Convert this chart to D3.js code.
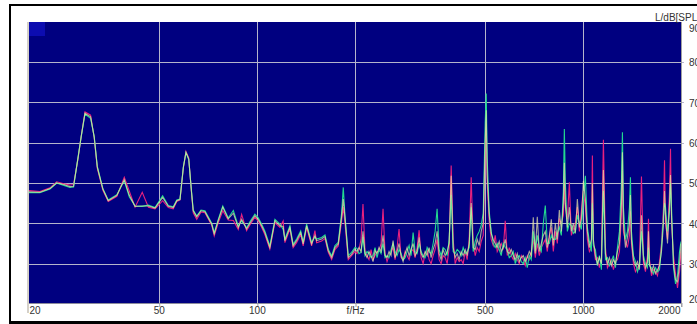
<!DOCTYPE html>
<html><head><meta charset="utf-8">
<script src="https://cdn.jsdelivr.net/npm/d3@7"></script>
<style>body{margin:0;background:#fff}svg{display:block}</style>
</head><body>
<svg id="c" width="697" height="324"></svg>
<script>
// frequency grid (Hz)
const freq = [
20.0,21.6,23.2,24.3,25.6,26.7,27.4,28.3,28.9,29.7,30.9,31.7,32.4,33.7,35.0,37.2,39.2,40.6,42.3,44.5,
46.5,48.7,51.4,53.5,55.4,56.8,58.1,59.5,60.6,61.8,63.1,63.8,65.4,67.4,69.3,72.7,74.0,76.0,78.6,81.7,
84.7,87.7,
89.8,93.0,95.2,98.6,100.9,103.4,105.8,109.6,113.6,117.7,120.4,121.9,126.3,129.2,132.4,136.3,138.7,142.1,147.2,150.7,
152.5,158.0,161.8,165.6,169.6,173.6,177.7,181.9,184.1,186.3,190.7,195.2,
200,202.8,205.7,208.7,211.6,214.7,217.7,220.8,224.0,227.2,
230.4,233.7,237.0,240.4,243.8,247.3,250.8,254.4,258.0,261.7,
265.4,269.2,273.0,276.9,280.9,284.9,288.9,293.1,297.2,301.5,
305.8,310.1,314.6,319.0,323.6,328.2,332.9,337.6,342.4,347.3,
352.2,357.2,362.3,367.5,372.7,378.1,383.5,388.9,394.5,400.1,
405.8,411.6,417.4,423.4,429.4,435.5,441.7,448.0,454.4,460.9,
467.5,474.1,480.9,487.7,494.7,501.7,505.3,508.8,516.1,523.4,
530.9,538.5,546.1,553.9,561.8,569.8,578.0,586.2,594.6,603.1,
611.6,620.4,629.2,638.2,647.3,656.5,665.8,675.3,684.9,694.6,
704.5,714.6,724.7,735.1,745.6,756.2,767.0,777.9,789.0,800.2,
811.6,823.3,835.0,846.9,859.0,871.2,877.4,883.6,896.2,909.0,
921.9,935.0,948.4,961.9,975.6,989.5,1003.6,1017.9,1032.4,1047.1,
1062.0,1069.5,1077.1,1092.6,1108.1,1123.9,1139.9,1156.1,1172.7,1189.4,
1206.3,1223.5,1240.9,1258.6,1276.5,1294.7,1313.1,1322.4,1331.8,1350.9,
1370.1,1389.6,1399.4,1409.4,1429.5,1449.9,1470.5,1491.4,1512.7,1534.2,
1556.2,1578.3,1589.5,1600.9,1623.6,1646.7,1670.3,1694.1,1718.2,1742.7,
1767.5,1780.1,1792.7,1818.2,1844.1,1857.2,1870.4,1897.0,1924.2,1951.5,
1979.3,2000
];
// series levels (dB SPL)
const pink = [
48.1,47.9,48.8,50.3,49.8,49.5,49.6,56.2,61.5,67.6,66.8,61.2,53.6,48.2,45.4,46.7,51.4,48.0,44.0,47.7,
44.0,43.6,45.6,43.9,43.6,45.4,45.8,53.7,57.8,56.2,47.0,42.6,41.0,42.8,42.6,39.5,36.9,40.0,43.1,40.8,
40.7,38.5,
42.2,38.2,39.6,41.5,40.6,39.0,37.2,33.6,40.2,39.0,40.6,35.2,38.6,34.0,35.2,37.2,34.4,39.0,34.4,38.2,
35.2,35.6,36.2,32.8,31.0,33.5,34.4,40.5,44.0,40.0,31.0,32.0,
33.0,32.5,33.5,36.0,44.8,33.0,32.0,31.0,33.5,31.0,
32.0,33.0,33.0,35.0,43.6,32.5,30.5,32.0,33.0,34.0,
31.0,34.0,38.6,31.5,31.0,33.0,32.0,31.0,33.0,33.5,
31.5,34.0,38.3,31.5,30.0,32.5,33.5,31.0,30.0,32.0,
33.5,36.0,31.0,30.0,32.0,31.5,30.0,34.0,54.3,36.0,
30.0,31.5,30.5,31.0,30.0,33.0,31.0,36.0,51.4,35.0,
32.0,34.0,33.0,35.5,37.0,58.0,64.8,50.0,40.5,36.0,
34.5,37.0,33.0,34.0,35.0,33.5,40.6,32.0,34.0,32.0,
31.0,32.5,31.0,30.0,32.0,31.0,29.5,32.0,31.0,33.0,
36.0,31.5,35.0,32.0,34.0,35.0,36.0,33.0,37.0,39.0,
33.0,38.0,35.0,41.0,40.0,42.0,50.0,44.0,41.0,50.2,
37.0,38.5,40.0,44.0,38.0,43.0,48.0,44.0,36.0,33.0,
34.0,56.8,35.0,31.0,31.5,29.0,31.0,60.7,34.0,29.0,
30.0,31.0,28.5,30.5,31.0,33.0,42.0,53.0,38.0,35.5,
34.0,37.0,43.0,35.0,30.0,28.0,29.0,30.0,51.6,30.0,
28.0,32.0,41.1,31.0,27.0,28.5,28.0,27.0,30.5,35.0,
44.0,55.6,40.0,36.0,48.0,58.5,40.0,32.0,27.5,24.0,
28.0,33.0
];
const green = [
47.6,47.6,48.5,50.0,49.4,48.9,49.0,56.6,61.3,67.1,66.0,61.5,54.1,48.6,45.8,47.1,50.6,46.6,44.3,44.2,
44.5,43.9,46.8,44.4,44.1,45.8,46.0,54.0,57.5,55.8,47.5,43.3,41.8,43.3,43.1,40.0,37.6,40.8,44.3,41.3,
43.2,39.3,
40.6,38.9,40.4,42.3,41.4,39.8,38.1,34.4,41.0,39.8,38.5,36.1,39.4,34.8,36.1,38.1,35.3,39.8,35.3,36.6,
36.1,36.5,37.1,33.6,31.9,34.5,35.3,42.5,48.9,42.0,32.0,32.8,
34.0,33.8,32.5,32.8,36.5,32.0,33.0,32.5,31.5,32.0,
34.0,31.5,33.5,32.5,35.0,31.5,32.0,31.5,33.5,35.0,
33.0,32.0,33.5,32.5,31.0,31.5,33.0,34.5,32.0,37.7,
33.0,32.5,35.0,33.0,32.0,31.5,34.0,33.0,32.5,35.0,
38.0,43.6,33.5,32.0,34.0,33.5,32.0,36.0,47.0,33.0,
32.5,33.5,33.0,32.0,34.0,32.5,33.0,34.0,44.0,33.0,
35.5,37.0,38.0,39.5,42.5,65.0,72.2,56.0,43.0,38.0,
35.0,34.0,35.0,33.5,32.0,35.0,34.0,33.5,31.5,32.0,
33.0,30.0,31.5,32.0,30.5,30.0,31.5,29.0,32.0,31.0,
38.0,33.0,37.0,34.0,33.0,40.0,44.4,35.0,35.0,37.0,
36.0,36.0,37.5,39.0,37.0,48.0,63.4,50.0,38.0,40.0,
39.5,37.5,38.0,42.0,40.0,38.5,46.0,51.8,39.0,35.5,
33.0,45.0,34.5,33.5,29.5,32.0,28.5,48.0,31.0,31.5,
29.5,30.5,32.0,29.0,34.0,38.0,50.0,62.6,44.0,36.0,
38.0,44.0,51.4,38.0,32.0,30.5,28.0,29.5,38.0,32.0,
30.0,29.0,34.0,29.5,29.0,27.5,29.0,28.0,28.5,34.0,
42.0,45.0,44.0,38.0,43.0,50.0,44.0,29.0,25.0,27.0,
33.0,35.5
];
const yellow = [
47.8,47.7,48.6,50.0,49.6,49.1,49.2,56.4,61.4,67.3,66.4,61.4,53.9,48.5,45.6,46.9,50.8,47.0,44.2,44.3,
44.3,43.8,46.4,44.2,43.9,45.6,45.9,53.9,57.6,56.0,47.3,43.1,41.6,43.1,42.9,39.8,37.4,40.5,44.0,41.1,
42.5,39.0,
41.0,38.6,40.0,41.9,41.0,39.4,37.7,34.0,40.6,39.4,39.2,35.7,39.0,34.4,35.7,37.7,34.9,39.4,34.9,37.0,
35.7,36.1,36.7,33.2,31.5,34.0,34.9,41.5,46.0,41.5,31.5,32.3,
33.6,33.0,34.0,33.0,38.0,32.5,31.5,33.0,32.0,30.5,
33.2,32.5,34.0,33.0,37.0,32.0,31.5,33.0,32.0,35.7,
31.5,33.0,35.0,32.0,30.5,32.5,34.0,32.0,33.5,35.0,
32.0,33.0,36.5,32.5,31.5,33.0,32.0,34.0,31.5,33.5,
35.0,38.0,32.5,31.0,33.5,32.0,33.0,35.0,51.8,34.0,
31.5,32.5,31.0,33.0,32.0,33.5,32.0,35.0,45.0,34.0,
33.5,36.0,34.5,38.0,40.0,60.0,68.0,52.0,42.0,37.5,
36.0,35.0,34.0,35.5,33.0,34.0,36.0,33.0,32.5,33.5,
32.0,31.0,32.5,30.5,31.5,32.0,30.5,31.5,33.0,32.0,
41.5,32.5,41.6,33.0,35.0,37.0,38.0,34.0,36.5,41.0,
34.5,40.0,36.0,43.3,38.0,45.0,55.0,45.0,39.0,44.0,
38.0,40.0,37.5,46.0,39.0,41.0,50.5,46.0,38.0,34.0,
36.0,50.0,36.0,32.0,30.0,31.5,30.0,53.2,32.5,30.0,
31.5,29.5,31.0,30.0,33.0,35.0,45.0,57.6,40.0,34.0,
36.5,40.0,47.0,36.0,31.0,29.5,30.5,28.5,42.0,31.0,
29.0,30.5,38.0,30.0,28.0,29.5,27.5,28.5,29.5,33.0,
40.0,48.0,42.0,35.0,45.0,52.0,42.0,30.0,26.0,25.5,
30.0,35.0
];
const xTickValues = [20,50,100,200,500,1000,2000];
const xTickLabels = ["20","50","100","f/Hz","500","1000","2000"];
const xGrid = [50,100,200,500,1000];
const yTickValues = [20,30,40,50,60,70,80,90];
const yGrid = [30,40,50,60,70,80];
const yUnit = "L/dB[SPL]";

const svg = d3.select("#c");
const L = 29, R = 681, T = 22, B = 303;
const x = d3.scaleLog().domain([20, 2000]).range([L, R]);
const y = d3.scaleLinear().domain([20, 90]).range([304, 21.6]);
const font = "'Liberation Sans', Arial, sans-serif";

// outer frame
svg.append("rect").attr("x", 9).attr("y", 4).attr("width", 2).attr("height", 320).attr("fill", "#000");
svg.append("rect").attr("x", 9).attr("y", 4).attr("width", 700).attr("height", 2).attr("fill", "#000");
svg.append("rect").attr("x", 9).attr("y", 321).attr("width", 700).attr("height", 3).attr("fill", "#000");

// plot background
svg.append("rect").attr("x", L).attr("y", T).attr("width", R - L).attr("height", B - T).attr("fill", "#000080");
svg.append("rect").attr("x", L).attr("y", T).attr("width", 16).attr("height", 14).attr("fill", "#0c0cb0");

// grid
svg.append("g").selectAll("line").data(yGrid).join("line")
  .attr("x1", L).attr("x2", R + 3)
  .attr("y1", d => Math.round(y(d)) + 0.5).attr("y2", d => Math.round(y(d)) + 0.5)
  .attr("stroke", "#b4b4cc").attr("stroke-width", 1);
svg.append("g").selectAll("line").data(xGrid).join("line")
  .attr("x1", d => Math.round(x(d)) + 0.5).attr("x2", d => Math.round(x(d)) + 0.5)
  .attr("y1", T).attr("y2", B)
  .attr("stroke", "#b4b4cc").attr("stroke-width", 1);

// clip
svg.append("clipPath").attr("id", "clip").append("rect")
  .attr("x", L).attr("y", T).attr("width", R - L).attr("height", B - T);

const line = d3.line().x((d, i) => x(freq[i])).y(d => y(d));
const lines = svg.append("g").attr("clip-path", "url(#clip)");
lines.append("path").datum(pink).attr("d", line).attr("fill", "none")
  .attr("stroke", "#e8207e").attr("stroke-width", 1.1);
lines.append("path").datum(green).attr("d", line).attr("fill", "none")
  .attr("stroke", "#22d890").attr("stroke-width", 1.1);
lines.append("path").datum(yellow).attr("d", line).attr("fill", "none")
  .attr("stroke", "#f0f0a8").attr("stroke-width", 1.1).attr("stroke-opacity", 0.7);

// axis frame lines
svg.append("rect").attr("x", 27).attr("y", T).attr("width", 2).attr("height", 291).attr("fill", "#d4d0c8");
svg.append("line").attr("x1", L).attr("x2", R).attr("y1", B + 0.5).attr("y2", B + 0.5).attr("stroke", "#8c8c9c");
svg.append("line").attr("x1", R + 0.5).attr("x2", R + 0.5).attr("y1", T).attr("y2", B + 4).attr("stroke", "#a0a0a0");

// x axis
const xAxis = d3.axisBottom(x).tickValues(xTickValues)
  .tickFormat((d, i) => xTickLabels[i]).tickSize(4).tickPadding(0);
const gx = svg.append("g").attr("transform", `translate(0,${B})`).call(xAxis);
gx.select(".domain").remove();
gx.selectAll(".tick line").attr("stroke", "#a0a0a8")
  .attr("transform", "translate(0.5,0)");
gx.selectAll(".tick").filter(d => d === 20).select("line").remove();
gx.selectAll(".tick text").attr("font-family", font).attr("font-size", 10)
  .attr("fill", "#333").attr("dy", 0).attr("y", 11);
gx.selectAll(".tick text").filter(d => d === 20).attr("text-anchor", "start").attr("x", 0);
gx.selectAll(".tick text").filter(d => d === 2000).attr("text-anchor", "end").attr("x", -1);

// y axis (right)
const yAxis = d3.axisRight(y).tickValues(yTickValues).tickSize(0).tickPadding(8);
const gy = svg.append("g").attr("transform", `translate(${R},0)`).call(yAxis);
gy.select(".domain").remove();
gy.selectAll(".tick text").attr("font-family", font).attr("font-size", 10)
  .attr("fill", "#333").attr("dy", 0)
  .attr("y", d => Math.max(32, Math.min(302, y(d) + 3.8)) - y(d));

svg.append("text").attr("x", 655).attr("y", 20.5).attr("font-family", font)
  .attr("font-size", 10).attr("fill", "#333").text(yUnit);
</script>
</body></html>
